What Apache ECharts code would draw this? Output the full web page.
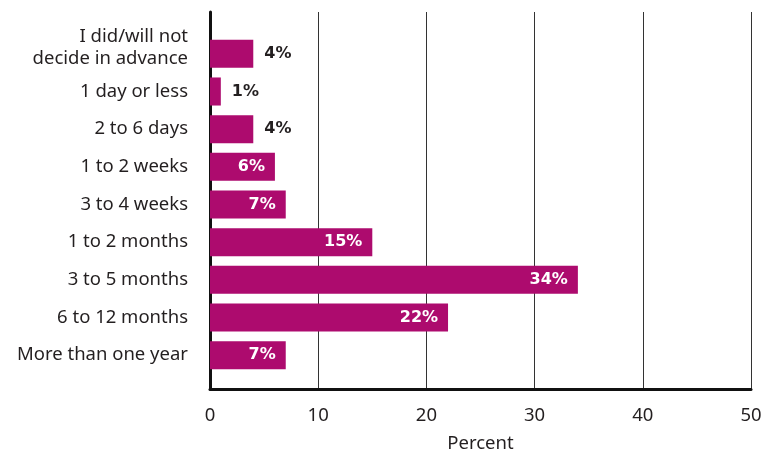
<!DOCTYPE html>
<html><head><meta charset="utf-8">
<script src="https://cdn.jsdelivr.net/npm/echarts@6/dist/echarts.min.js"></script>
<style>html,body{margin:0;padding:0;background:#fff}#c{width:765px;height:452px}</style>
</head><body><div id="c"></div>
<script>
const categories = ["I did/will not\ndecide in advance","1 day or less","2 to 6 days","1 to 2 weeks","3 to 4 weeks","1 to 2 months","3 to 5 months","6 to 12 months","More than one year"];
const values = [4,1,4,6,7,15,34,22,7];
const xTicks = [0,10,20,30,40,50];
const xTitle = "Percent";

const FONT = '"Noto Sans", sans-serif';
const LFONT = '"DejaVu Sans", sans-serif';
const FS = 18.5;
const BAR = '#AD0B6E';
const TXT = '#231F20';

const barData = values.map(v => ({
  value: v,
  label: v < 5
    ? {position: 'right', distance: 11, color: TXT}
    : {position: 'insideRight', distance: 10, color: '#fff'}
}));

const chart = echarts.init(document.getElementById('c'), null, {renderer: 'canvas'});
chart.setOption({
  animation: false,
  grid: [
    {left: 210, right: 14, top: 12, bottom: 63, containLabel: false, outerBoundsMode: 'none'},
    {left: 210, right: 14, top: 35, bottom: 78, containLabel: false, outerBoundsMode: 'none'}
  ],
  xAxis: [
    {type: 'value', gridIndex: 0, min: xTicks[0], max: xTicks[xTicks.length-1], interval: 10,
     name: xTitle, nameLocation: 'middle', nameGap: 45,
     nameTextStyle: {fontFamily: FONT, fontSize: FS, color: TXT},
     axisLine: {show: true, lineStyle: {color: '#111', width: 3}},
     axisTick: {show: false},
     axisLabel: {fontFamily: FONT, fontSize: FS, color: TXT, margin: 17},
     splitLine: {show: true, lineStyle: {color: '#333', width: 1}}},
    {type: 'value', gridIndex: 1, min: xTicks[0], max: xTicks[xTicks.length-1],
     show: false}
  ],
  yAxis: [
    {type: 'value', gridIndex: 0, min: 0, max: 1,
     axisLine: {show: true, lineStyle: {color: '#111', width: 3}},
     axisTick: {show: false}, axisLabel: {show: false}, splitLine: {show: false}},
    {type: 'category', gridIndex: 1, inverse: true,
     data: categories,
     axisLine: {show: false}, axisTick: {show: false},
     axisLabel: {interval: 0, fontFamily: FONT, fontSize: FS, color: TXT, margin: 22, align: 'right',
       formatter: (v, i) => i === 0 ? '{m|' + v.split('\n').join('}\n{m|') + '}\n{s| }' : v,
       rich: {m: {fontFamily: FONT, fontSize: FS, color: TXT, lineHeight: 22},
              s: {fontSize: 4, lineHeight: 12}}}}
  ],
  series: [{
    type: 'bar', xAxisIndex: 1, yAxisIndex: 1,
    data: barData,
    barCategoryGap: '25.5%',
    itemStyle: {color: BAR},
    label: {show: true, fontFamily: LFONT, fontSize: 16, fontWeight: 'bold', formatter: '{c}%'}
  }]
});
</script></body></html>
